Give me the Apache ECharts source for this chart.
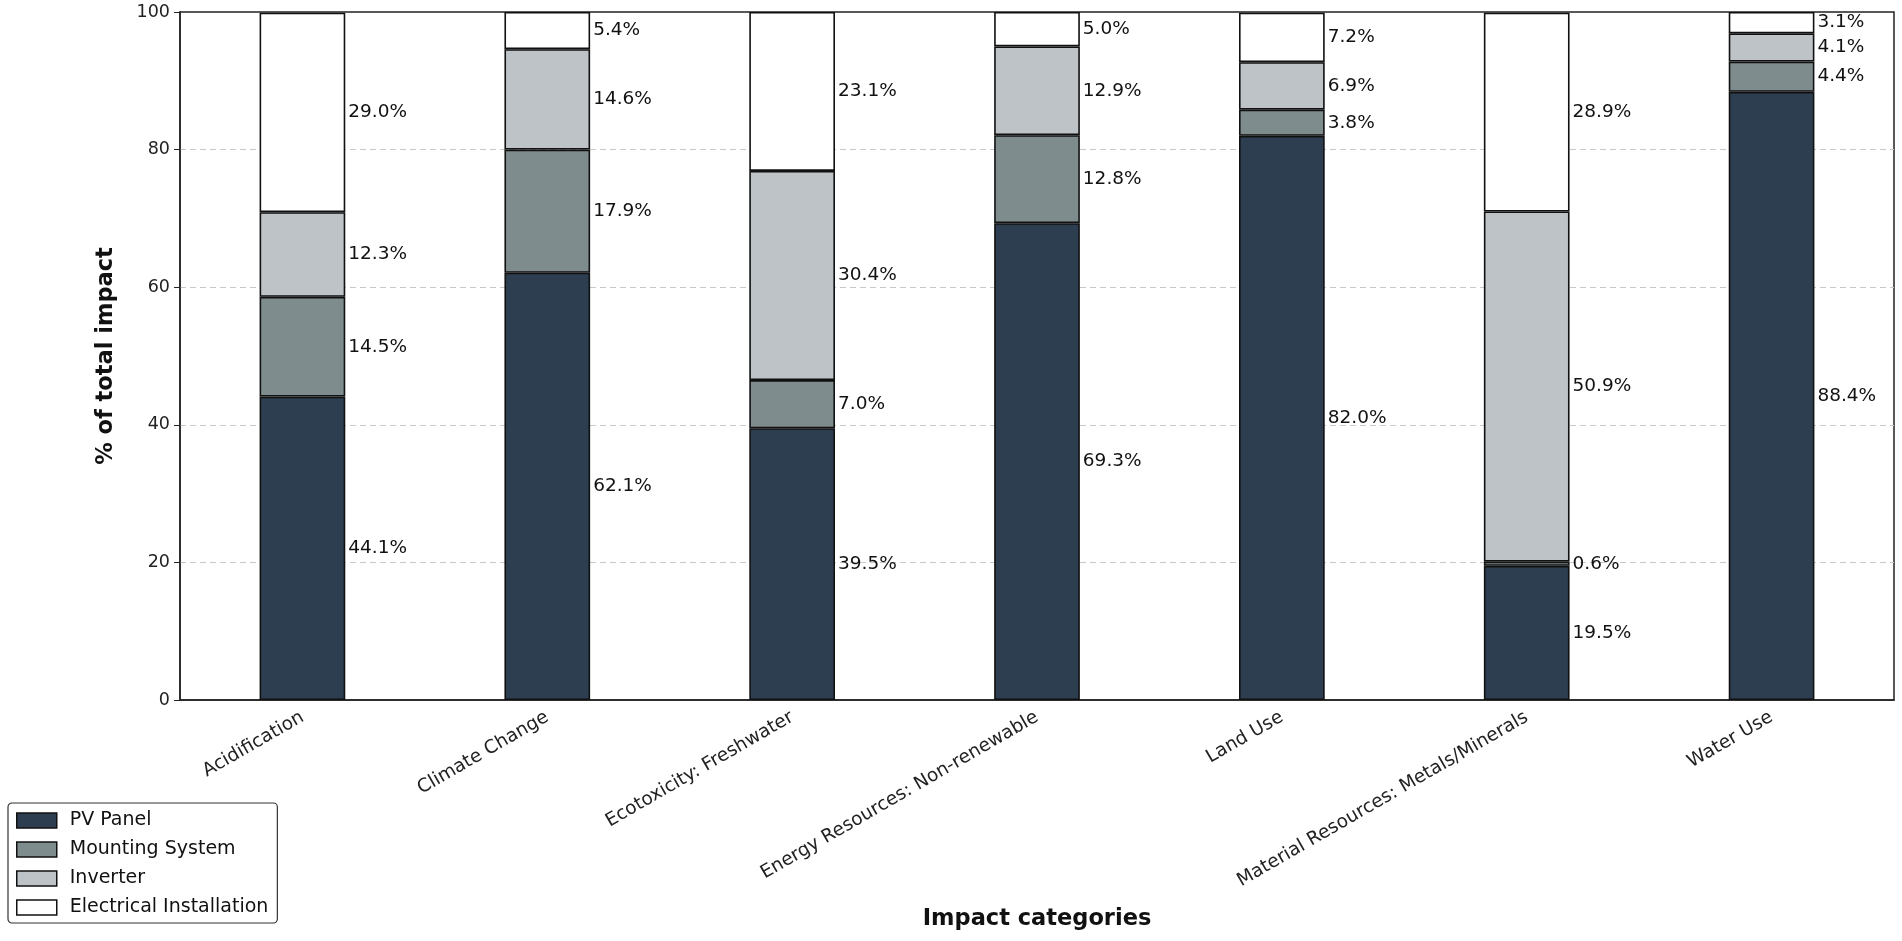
<!DOCTYPE html>
<html><head><meta charset="utf-8">
<script src="https://cdn.jsdelivr.net/npm/echarts@6/dist/echarts.min.js"></script>
<style>html,body{margin:0;padding:0;background:#fff}#c{width:1902px;height:941px}</style>
</head><body><div id="c"></div>
<script>
const categories = ["Acidification","Climate Change","Ecotoxicity: Freshwater","Energy Resources: Non-renewable","Land Use","Material Resources: Metals/Minerals","Water Use"];
const pvPanel = [44.1, 62.1, 39.5, 69.3, 82.0, 19.5, 88.4];
const mountingSystem = [14.5, 17.9, 7.0, 12.8, 3.8, 0.6, 4.4];
const inverter = [12.3, 14.6, 30.4, 12.9, 6.9, 50.9, 4.1];
const electricalInstallation = [29.0, 5.4, 23.1, 5.0, 7.2, 28.9, 3.1];
const yTicks = [0, 20, 40, 60, 80, 100];

const FONT = "DejaVu Sans";
function mk(name, data, color){
  return {
    name, type:'bar', stack:'total', data, barWidth:'35%',
    itemStyle:{color, borderColor:'#111', borderWidth:1.6},
    label:{show:true, position:'right', distance:3, fontFamily:FONT, fontSize:18.5, color:'#111',
      formatter:p=>p.value.toFixed(1)+'%'},
    emphasis:{disabled:true}
  };
}
const gridColors = yTicks.map(v => (v===0||v===100) ? 'rgba(0,0,0,0)' : '#c8c8c8');
const chart = echarts.init(document.getElementById('c'));
chart.setOption({
  animation:false,
  textStyle:{fontFamily:FONT},
  grid:{left:180, right:8, top:12, bottom:241, show:true, borderColor:'#222', borderWidth:1.5, backgroundColor:'transparent'},
  legend:{
    orient:'vertical', left:8, top:803, itemWidth:40, itemHeight:15, itemGap:10,
    padding:[8,9,6,8], borderColor:'#333', borderWidth:1.2, borderRadius:4,
    icon:'rect', itemStyle:{borderColor:'#111', borderWidth:1.5},
    textStyle:{fontFamily:FONT, fontSize:19, color:'#111', padding:[0,0,0,8]},
    data:['PV Panel','Mounting System','Inverter','Electrical Installation']
  },
  xAxis:{
    type:'category', data:categories,
    name:'Impact categories', nameLocation:'middle', nameGap:208,
    nameTextStyle:{fontFamily:FONT, fontSize:22.5, fontWeight:'bold', color:'#111'},
    axisLine:{lineStyle:{color:'#222', width:1.5}},
    axisTick:{alignWithLabel:true, length:6, lineStyle:{color:'#222'}},
    axisLabel:{rotate:30, fontFamily:FONT, fontSize:18.5, color:'#222', margin:16, interval:0},
    splitLine:{show:false}
  },
  yAxis:{
    type:'value', min:0, max:100, interval:20,
    name:'% of total impact', nameLocation:'middle', nameGap:62, nameRotate:90,
    nameTextStyle:{fontFamily:FONT, fontSize:22.5, fontWeight:'bold', color:'#111'},
    axisLine:{show:true, lineStyle:{color:'#222', width:1.5}},
    axisTick:{show:true, length:6, lineStyle:{color:'#222'}},
    axisLabel:{fontFamily:FONT, fontSize:17.5, color:'#222', margin:10,
      formatter:v=>yTicks.includes(v)?String(v):''},
    splitLine:{show:true, lineStyle:{color:gridColors, type:[6,4], width:1}}
  },
  series:[
    mk('PV Panel', pvPanel, '#2c3e50'),
    mk('Mounting System', mountingSystem, '#7f8c8d'),
    mk('Inverter', inverter, '#bdc3c7'),
    mk('Electrical Installation', electricalInstallation, '#ffffff')
  ]
});
</script></body></html>
